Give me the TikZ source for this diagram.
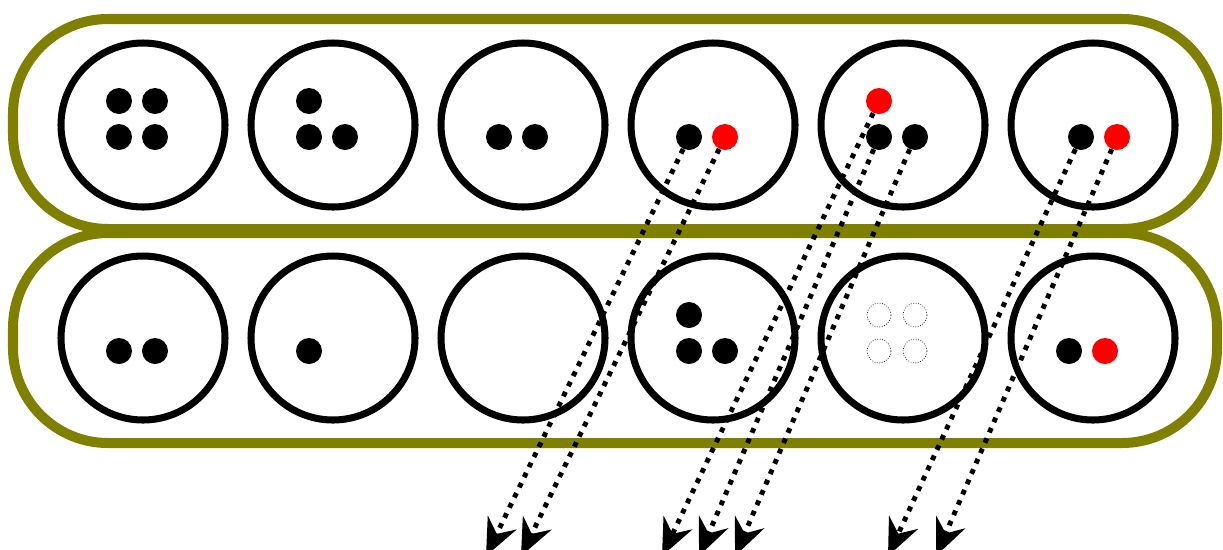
\documentclass[tikz,border=0pt]{standalone}
\usetikzlibrary{arrows.meta}

\definecolor{hopcol}{RGB}{128,128,0}

\tikzset{
    hop/.style={hopcol, line width=5.7pt, rounded corners=1.9cm},
    ring/.style={line width=4pt},
    dot/.style={circle, fill=black, inner sep=0pt, minimum size=0.52cm},
    reddot/.style={dot, fill=red},
    ghost/.style={circle, draw, densely dotted, thin, inner sep=0pt, minimum size=0.48cm},
    move/.style={->, line width=2.8pt, dash pattern=on 2.8pt off 3.6pt}
}

\begin{document}
\begin{tikzpicture}[x=0.02cm, y=-0.02cm, >={Stealth[length=21pt, width=18pt, inset=7pt]}]
    \useasboundingbox (0,0) rectangle (1223,549);

    % Hai hàng bao ngoài
    \draw[hop] (13,19) rectangle (1217,229);
    \draw[hop] (13,233) rectangle (1217,443);

    % Các vòng tròn
    \foreach \cx in {143,333,523,713,903,1093} {
        \draw[ring] (\cx,125) circle[radius=82];
        \draw[ring] (\cx,338) circle[radius=82];
    }

    % Hàng trên
    \node[dot] (ta1) at (119,101) {};
    \node[dot] (ta2) at (155,101) {};
    \node[dot] (ta3) at (119,137) {};
    \node[dot] (ta4) at (155,137) {};
    \node[dot] (tb1) at (309,101) {};
    \node[dot] (tb2) at (309,137) {};
    \node[dot] (tb3) at (345,137) {};
    \node[dot] (tc1) at (499,137) {};
    \node[dot] (tc2) at (535,137) {};
    \node[dot] (td1) at (689,137) {};
    \node[reddot] (td2) at (725,137) {};
    \node[reddot] (te1) at (879,101) {};
    \node[dot] (te2) at (879,137) {};
    \node[dot] (te3) at (915,137) {};
    \node[dot] (tf1) at (1081,137) {};
    \node[reddot] (tf2) at (1117,137) {};

    % Hàng dưới
    \node[dot] (ba1) at (119,351) {};
    \node[dot] (ba2) at (155,351) {};
    \node[dot] (bb1) at (309,351) {};
    \node[dot] (bd1) at (689,315) {};
    \node[dot] (bd2) at (689,351) {};
    \node[dot] (bd3) at (725,351) {};
    \node[ghost] (be1) at (879,315) {};
    \node[ghost] (be2) at (915,315) {};
    \node[ghost] (be3) at (879,351) {};
    \node[ghost] (be4) at (915,351) {};
    \node[dot] (bf1) at (1069,351) {};
    \node[reddot] (bf2) at (1105,351) {};

    % Điểm cuối các mũi tên
    \coordinate (o1) at (486,556);
    \coordinate (o2) at (521,556);
    \coordinate (o3) at (662,556);
    \coordinate (o4) at (699,556);
    \coordinate (o5) at (735,556);
    \coordinate (o6) at (888,556);
    \coordinate (o7) at (936,556);

    % Mũi tên chấm
    \draw[move] (td1) -- (o1);
    \draw[move] (td2) -- (o2);
    \draw[move] (te1) -- (o3);
    \draw[move] (te2) -- (o4);
    \draw[move] (te3) -- (o5);
    \draw[move] (tf1) -- (o6);
    \draw[move] (tf2) -- (o7);

\end{tikzpicture}
\end{document}
